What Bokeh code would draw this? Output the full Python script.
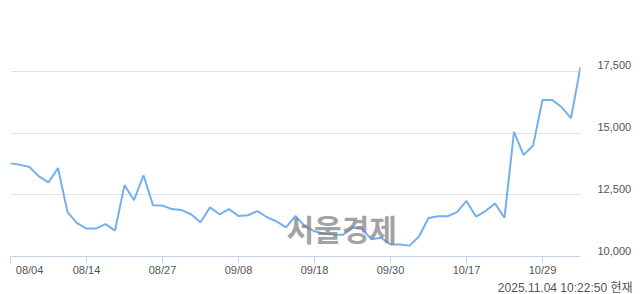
from bokeh.plotting import figure
from bokeh.models import Range1d, FixedTicker, LinearAxis, Label, NumeralTickFormatter, Title
from bokeh.embed import file_html
from bokeh.resources import INLINE

dates = ["08/04", "08/05", "08/06", "08/07", "08/08", "08/11", "08/12", "08/13", "08/14",
         "08/18", "08/19", "08/20", "08/21", "08/22", "08/25", "08/26", "08/27", "08/28", "08/29",
         "09/01", "09/02", "09/03", "09/04", "09/05", "09/08", "09/09", "09/10", "09/11", "09/12",
         "09/15", "09/16", "09/17", "09/18", "09/19", "09/22", "09/23", "09/24", "09/25", "09/26",
         "09/29", "09/30", "10/01", "10/02", "10/10", "10/13", "10/14", "10/15", "10/16", "10/17",
         "10/20", "10/21", "10/22", "10/23", "10/24", "10/27", "10/28", "10/29", "10/30", "10/31",
         "11/03", "11/04"]
prices = [13770, 13710, 13620, 13240, 13000, 13580, 11800, 11350, 11130, 11130, 11310, 11050,
          12890, 12280, 13290, 12070, 12060, 11920, 11880, 11710, 11390, 11990, 11710, 11920,
          11640, 11670, 11840, 11590, 11420, 11180, 11640, 11220, 11020, 10920, 10890, 10880,
          11170, 11120, 10700, 10760, 10490, 10490, 10440, 10810, 11560, 11630, 11630, 11800,
          12250, 11610, 11840, 12140, 11570, 15050, 14110, 14480, 16340, 16340, 16050, 15600, 17670]
x_tick_labels = ["08/04", "08/14", "08/27", "09/08", "09/18", "09/30", "10/17", "10/29"]
y_ticks = [10000, 12500, 15000, 17500, 20000]
stamp = "2025.11.04 10:22:50 현재"
watermark = "서울경제"

xs = list(range(len(prices)))
x_ticks = [dates.index(d) for d in x_tick_labels]

y_lo, y_hi = 10000, 20000
p = figure(width=640, height=294, output_backend="svg", toolbar_location=None,
           x_range=Range1d(0, len(prices) - 1), y_range=Range1d(y_lo, y_hi),
           min_border_left=10, min_border_right=60, min_border_top=9, min_border_bottom=38,
           y_axis_location=None)
p.outline_line_color = None
p.background_fill_color = "white"
p.border_fill_color = "white"

# label range: same span, shifted so tick labels sit ~6px above their grid lines
shift = (y_hi - y_lo) * 6 / 247
p.extra_y_ranges = {"lab": Range1d(y_lo - shift, y_hi - shift)}

p.xgrid.grid_line_color = None
p.ygrid.ticker = FixedTicker(ticks=y_ticks)
p.ygrid.grid_line_color = "#e3e3e3"
p.ygrid.grid_line_width = 1

xa = p.xaxis[0]
xa.ticker = FixedTicker(ticks=x_ticks)
overrides = {t: l for t, l in zip(x_ticks, x_tick_labels)}
overrides[x_ticks[0]] = "\u00a0" * 5 + x_tick_labels[0]
xa.major_label_overrides = overrides
xa.axis_line_color = "#c5d3e8"
xa.major_tick_line_color = "#c5d3e8"
xa.major_tick_out = 7
xa.major_tick_in = 0
xa.minor_tick_line_color = None
xa.major_label_standoff = 0
xa.major_label_text_font = "Liberation Sans"
xa.major_label_text_font_size = "11px"
xa.major_label_text_color = "#555555"

ya = LinearAxis(y_range_name="lab", ticker=FixedTicker(ticks=y_ticks),
                formatter=NumeralTickFormatter(format="0,0"))
ya.major_label_overrides = {20000: ""}
ya.axis_line_color = None
ya.major_tick_line_color = None
ya.minor_tick_line_color = None
ya.major_tick_out = 0
ya.major_tick_in = 0
ya.major_label_standoff = 17
ya.major_label_text_font = "Liberation Sans"
ya.major_label_text_font_size = "11px"
ya.major_label_text_color = "#555555"
p.add_layout(ya, "right")

p.line(xs, prices, line_color="#75b0ec", line_width=2)

wm = Label(x=276, y=7, x_units="screen", y_units="screen", text=watermark,
           text_font="'Noto Sans CJK KR'", text_font_style="bold", text_font_size="30px",
           text_color="#7a7a7a", text_alpha=0.7)
p.add_layout(wm)

st = Title(text=stamp, align="right", offset=-52, standoff=0,
           text_font="'Liberation Sans', 'Noto Sans CJK KR'", text_font_size="12px",
           text_font_style="normal", text_color="#555555")
p.add_layout(st, "below")

open("out.html", "w").write(file_html(p, INLINE))
